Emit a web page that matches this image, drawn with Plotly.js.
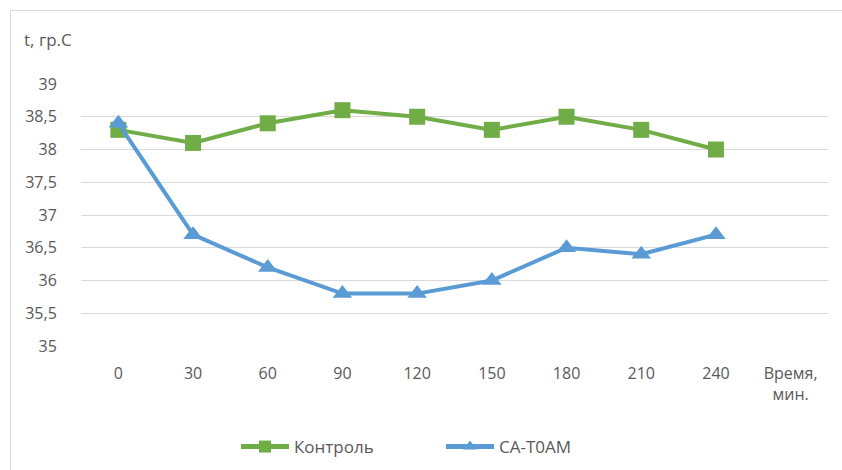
<!DOCTYPE html>
<html>
<head>
<meta charset="utf-8">
<script src="https://cdn.plot.ly/plotly-3.0.1.min.js"></script>
<style>
  html, body { margin: 0; padding: 0; background: #ffffff; }
  #wrap { position: relative; width: 842px; height: 470px; overflow: hidden; }
  #chart { position: absolute; left: 0; top: 0; width: 842px; height: 470px; }
  #frame {
    position: absolute; left: 10px; top: 10px; width: 860px; height: 480px;
    border-top: 1px solid #d9d9d9; border-left: 1px solid #d9d9d9;
    pointer-events: none;
  }
</style>
</head>
<body>
<div id="wrap">
  <div id="chart"></div>
  <div id="frame"></div>
</div>
<script>
// Time points, minutes
const timePoints = ["0", "30", "60", "90", "120", "150", "180", "210", "240"];
// Body temperature, °C
const controlTemp = [38.3, 38.1, 38.4, 38.6, 38.5, 38.3, 38.5, 38.3, 38.0];
const caToamTemp  = [38.4, 36.7, 36.2, 35.8, 35.8, 36.0, 36.5, 36.4, 36.7];
// Axis captions
const xAxisCaption = "Время,<br>мин.";
const yAxisCaption = "t, гр.С";
const yTickVals = [35, 35.5, 36, 36.5, 37, 37.5, 38, 38.5, 39];
const yTickText = ["35", "35,5", "36", "36,5", "37", "37,5", "38", "38,5", "39"];

const textColor = "#595959";
const fontFamily = "'Open Sans', 'Liberation Sans', sans-serif";
const fontSize = 16;

const categories = timePoints.concat([xAxisCaption]);

// plot area: 747 px wide starting at x=81, 262 px tall starting at y=84
const px = (x) => (x - 81) / 747;
const py = (y) => (346 - y) / 262;

const traces = [
  {
    x: timePoints, y: controlTemp, name: "Контроль", legend: "legend",
    type: "scatter", mode: "lines+markers",
    line: { color: "#70ad47", width: 4 },
    marker: { symbol: "square", size: 16, color: "#70ad47" }
  },
  {
    x: timePoints, y: caToamTemp, name: "CA-T0AM", legend: "legend2",
    type: "scatter", mode: "lines+markers",
    line: { color: "#5b9bd5", width: 4 },
    marker: { symbol: "triangle-up", size: 17, color: "#5b9bd5" }
  }
];

const legendStyle = {
  orientation: "h", yanchor: "middle", xanchor: "left",
  itemsizing: "constant", itemwidth: 48,
  font: { size: fontSize + 1, color: textColor }, bgcolor: "rgba(0,0,0,0)"
};

const layout = {
  width: 842, height: 470,
  margin: { l: 81, r: 14, t: 84, b: 124, autoexpand: false },
  paper_bgcolor: "#ffffff", plot_bgcolor: "#ffffff",
  font: { family: fontFamily, size: fontSize, color: textColor },
  showlegend: true,
  legend: Object.assign({}, legendStyle, { x: px(236), y: py(447) }),
  legend2: Object.assign({}, legendStyle, { x: px(441), y: py(447) }),
  xaxis: {
    type: "category", categoryorder: "array", categoryarray: categories,
    range: [-0.5, 9.5], tickvals: categories, ticktext: categories,
    showgrid: false, zeroline: false, showline: false, automargin: false,
    ticks: "outside", ticklen: 13, tickcolor: "rgba(0,0,0,0)",
    tickfont: { size: fontSize, color: textColor }
  },
  yaxis: {
    range: [35, 39], tickvals: yTickVals, ticktext: yTickText,
    showgrid: true, gridcolor: "#d9d9d9", gridwidth: 1,
    zeroline: false, showline: false, automargin: false,
    ticks: "outside", ticklen: 20, tickcolor: "rgba(0,0,0,0)",
    tickfont: { size: fontSize, color: textColor }
  },
  annotations: [
    {
      text: yAxisCaption, xref: "paper", yref: "paper",
      x: px(22), y: py(40),
      xanchor: "left", yanchor: "middle", showarrow: false,
      font: { size: fontSize + 1, color: textColor }
    }
  ]
};

Plotly.newPlot("chart", traces, layout, { displayModeBar: false, staticPlot: true });
</script>
</body>
</html>
